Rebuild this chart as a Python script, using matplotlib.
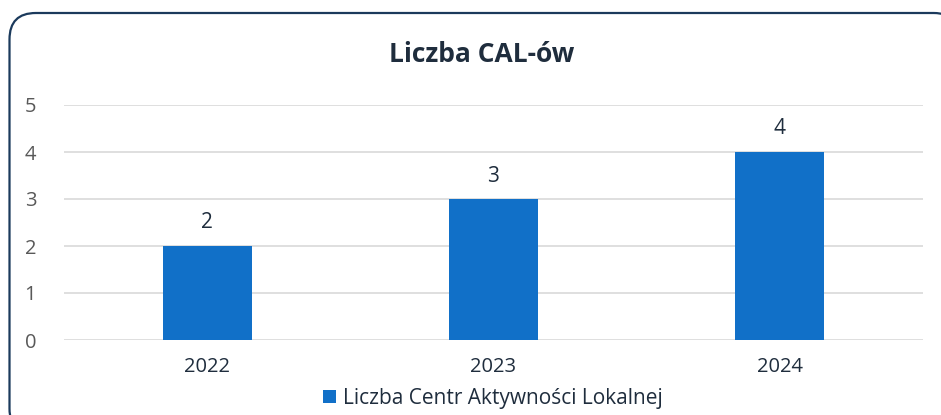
import matplotlib.pyplot as plt
from matplotlib.patches import FancyBboxPatch

years = ["2022", "2023", "2024"]
counts = [2, 3, 4]
series_name = "Liczba Centr Aktywności Lokalnej"

plt.rcParams["font.family"] = ["Open Sans", "DejaVu Sans"]

fig = plt.figure(figsize=(9.41, 4.15), dpi=100)

# rounded frame around the chart (cut off at right/bottom like the screenshot)
frame = FancyBboxPatch((9.5 / 941, -20 / 415), (960 - 9.5) / 941, (415 - 13 + 20) / 415,
                       boxstyle="round,pad=0,rounding_size=0.028",
                       transform=fig.transFigure, facecolor="white",
                       edgecolor="#1b3a5c", linewidth=1.6, mutation_aspect=941 / 415,
                       zorder=-5)
fig.patches.append(frame)

ax = fig.add_axes([64 / 941, 1 - 340 / 415, (923 - 64) / 941, (340 - 105) / 415])
ax.set_facecolor("none")

x = range(len(years))
bars = ax.bar(x, counts, width=0.31, color="#1170c8", zorder=3, label=series_name)
for b, v in zip(bars, counts):
    ax.annotate(str(v), (b.get_x() + b.get_width() / 2, v), xytext=(0, 9),
                textcoords="offset points", ha="center", va="bottom",
                fontsize=15, color="#1f2d3d")

ax.set_xlim(-0.5, 2.5)
ax.set_ylim(0, 5)
ax.set_yticks(range(6))
ax.set_xticks(list(x))
ax.set_xticklabels(years)
ax.grid(axis="y", color="#d9d9d9", linewidth=1.2, zorder=0)
for s in ax.spines.values():
    s.set_visible(False)
ax.tick_params(axis="y", length=0, pad=20, labelsize=14.5, labelcolor="#595959")
ax.tick_params(axis="x", length=0, pad=12, labelsize=14.5, labelcolor="#1f2d3d")

fig.text(482 / 941, 1 - 55 / 415, "Liczba CAL-ów", ha="center", va="center",
         fontsize=19, fontweight="bold", color="#1f2d3d")

fig.legend(handles=[bars], labels=[series_name], loc="center",
           bbox_to_anchor=(493 / 941, 1 - 398 / 415), frameon=False,
           fontsize=15, labelcolor="#1f2d3d", handlelength=0.6, handleheight=0.6,
           handletextpad=0.35)

fig.savefig("out.png", dpi=100)
